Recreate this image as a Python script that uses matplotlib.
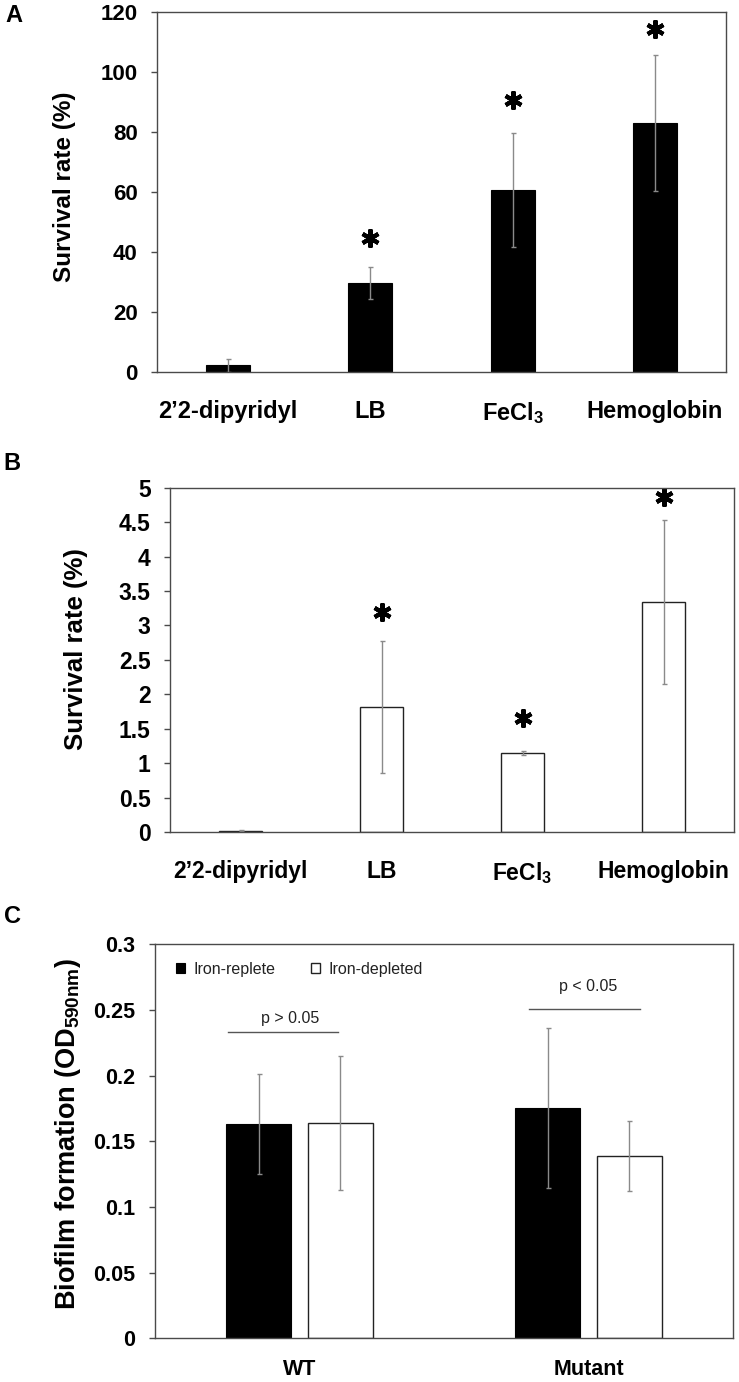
import matplotlib
matplotlib.use("Agg")
import matplotlib.pyplot as plt
import numpy as np

plt.rcParams['font.family'] = ['Liberation Sans', 'DejaVu Sans']
plt.rcParams['mathtext.fontset'] = 'custom'
plt.rcParams['mathtext.rm'] = 'Liberation Sans:bold'
plt.rcParams['mathtext.it'] = 'Liberation Sans:bold'
plt.rcParams['mathtext.bf'] = 'Liberation Sans:bold'

# ---------------- data ----------------
cats_AB = ['2’2-dipyridyl', 'LB', 'FeCl$_3$', 'Hemoglobin']

a_vals = [2.3, 29.8, 60.7, 82.9]
a_errs = [2.2, 5.3, 19.0, 22.7]
a_star = [np.nan, 44.7, 90.7, 114.3]
a_yticks = [0, 20, 40, 60, 80, 100, 120]
a_yticklabels = ['0', '20', '40', '60', '80', '100', '120']

b_vals = [0.02, 1.82, 1.15, 3.34]
b_errs = [0.01, 0.96, 0.03, 1.19]
b_star = [np.nan, 3.20, 1.66, 4.86]
b_yticks = [0, 0.5, 1, 1.5, 2, 2.5, 3, 3.5, 4, 4.5, 5]
b_yticklabels = ['0', '0.5', '1', '1.5', '2', '2.5', '3', '3.5', '4', '4.5', '5']

cats_C = ['WT', 'Mutant']
c_replete = [0.163, 0.1756]
c_replete_err = [0.038, 0.061]
c_depleted = [0.164, 0.139]
c_depleted_err = [0.051, 0.0265]
c_series = ['Iron-replete', 'Iron-depleted']
c_sig_text = ['p > 0.05', 'p < 0.05']
c_sig_y = [0.2335, 0.2507]
c_sig_x0 = [-0.248, 0.795]
c_sig_x1 = [0.134, 1.176]
c_sig_text_x = [-0.033, 0.998]
c_sig_text_y = [0.2437, 0.2677]
c_yticks = [0, 0.05, 0.1, 0.15, 0.2, 0.25, 0.3]
c_yticklabels = ['0', '0.05', '0.1', '0.15', '0.2', '0.25', '0.3']

W, H = 739, 1382
fig = plt.figure(figsize=(W / 100, H / 100), dpi=100)

def ax_px(l, t, r, b):
    return fig.add_axes([l / W, 1 - b / H, (r - l) / W, (b - t) / H])

SPINE = '#4a4a4a'
ERRC = '#8a8a8a'

def style_axes(ax, tick_fs, xtick_fs, xpad):
    for s in ax.spines.values():
        s.set_color(SPINE)
        s.set_linewidth(1.0)
    ax.tick_params(axis='y', direction='out', length=4, width=1, color=SPINE,
                   labelsize=tick_fs, pad=10)
    ax.tick_params(axis='x', length=0, labelsize=xtick_fs, pad=xpad)
    for lab in ax.get_yticklabels() + ax.get_xticklabels():
        lab.set_fontweight('bold')

err_kw = dict(ecolor=ERRC, elinewidth=1.0, capsize=1.8, capthick=1.0)
star_kw = dict(linestyle='none', marker=(6, 2, 0), markersize=13,
               markeredgewidth=3.0, color='black')

# ---------------- Panel A ----------------
axA = ax_px(157, 12, 726, 372)
x = np.arange(len(cats_AB))
axA.bar(x, a_vals, width=0.31, color='black', edgecolor='black', linewidth=0.8,
        yerr=a_errs, error_kw=err_kw, zorder=2)
axA.plot(x, a_star, **star_kw)
axA.set_xlim(-0.5, 3.5)
axA.set_ylim(0, 120)
axA.set_yticks(a_yticks)
axA.set_yticklabels(a_yticklabels)
axA.set_xticks(x)
axA.set_xticklabels(cats_AB)
style_axes(axA, 16, 17, 20)
axA.set_ylabel('Survival rate (%)', fontsize=17.5, fontweight='bold', va='center')
axA.yaxis.set_label_coords(-0.163, 0.515)

# ---------------- Panel B ----------------
axB = ax_px(170, 487.7, 734, 832)
axB.bar(x, b_vals, width=0.31, color='white', edgecolor='#222222', linewidth=1.0,
        yerr=b_errs, error_kw=err_kw, zorder=2)
axB.plot(x, b_star, **star_kw)
axB.set_xlim(-0.5, 3.5)
axB.set_ylim(0, 5)
axB.set_yticks(b_yticks)
axB.set_yticklabels(b_yticklabels)
axB.set_xticks(x)
axB.set_xticklabels(cats_AB)
style_axes(axB, 16.5, 16.5, 20)
axB.set_ylabel('Survival rate (%)', fontsize=18.5, fontweight='bold', va='center')
axB.yaxis.set_label_coords(-0.167, 0.53)

# ---------------- Panel C ----------------
axC = ax_px(155, 944.3, 733.3, 1338.3)
xc = np.arange(len(cats_C))
bw = 0.225
off = 0.141
bars1 = axC.bar(xc - off, c_replete, width=bw, color='black', edgecolor='black',
                linewidth=0.8, yerr=c_replete_err, error_kw=err_kw, zorder=2,
                label=c_series[0])
bars2 = axC.bar(xc + off, c_depleted, width=bw, color='white', edgecolor='#222222',
                linewidth=1.0, yerr=c_depleted_err, error_kw=err_kw, zorder=2,
                label=c_series[1])
for i in range(len(cats_C)):
    axC.plot([c_sig_x0[i], c_sig_x1[i]], [c_sig_y[i], c_sig_y[i]],
             color='#555555', linewidth=1.0)
    axC.text(c_sig_text_x[i], c_sig_text_y[i], c_sig_text[i], fontsize=11.5,
             ha='center', va='center', color='#222222')
axC.set_xlim(-0.5, 1.5)
axC.set_ylim(0, 0.3)
axC.set_yticks(c_yticks)
axC.set_yticklabels(c_yticklabels)
axC.set_xticks(xc)
axC.set_xticklabels(cats_C)
style_axes(axC, 15.5, 15.5, 15)
axC.set_ylabel('Biofilm formation (OD$_{590nm}$)', fontsize=19.5, fontweight='bold',
               va='center')
axC.yaxis.set_label_coords(-0.150, 0.52)
leg = axC.legend(handles=[bars1, bars2], loc='upper left', ncol=2, frameon=False,
                 fontsize=11.5, handlelength=0.6, handleheight=0.6, handletextpad=0.5,
                 columnspacing=2.2, borderpad=0, borderaxespad=0,
                 bbox_to_anchor=(0.036, 0.955))
for t in leg.get_texts():
    t.set_color('#222222')

# ---------------- panel letters ----------------
fig.text(13.5 / W, 1 - 15 / H, 'A', fontsize=17, fontweight='bold', ha='center', va='center')
fig.text(11.5 / W, 1 - 463 / H, 'B', fontsize=17, fontweight='bold', ha='center', va='center')
fig.text(12.5 / W, 1 - 916.5 / H, 'C', fontsize=17, fontweight='bold', ha='center', va='center')

fig.savefig('out.png', dpi=100)
